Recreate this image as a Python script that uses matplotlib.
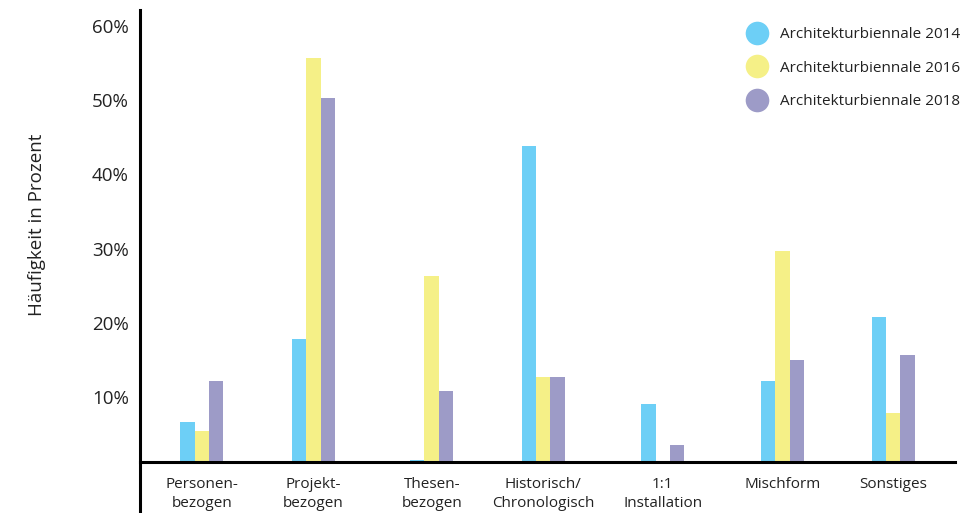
import matplotlib.pyplot as plt
from matplotlib.lines import Line2D
import numpy as np

plt.rcParams['font.family'] = ['Open Sans', 'DejaVu Sans']

# Ausstellungsformen je Biennale (Anteil in Prozent)
categories = ['Personen-\nbezogen', 'Projekt-\nbezogen', 'Thesen-\nbezogen',
              'Historisch/\nChronologisch', '1:1\nInstallation', 'Mischform', 'Sonstiges']
series_names = ['Architekturbiennale 2014', 'Architekturbiennale 2016', 'Architekturbiennale 2018']
values_2014 = [6.7, 17.8, 1.5, 43.8, 9.1, 12.2, 20.8]
values_2016 = [5.5, 55.7, 26.3, 12.7, 0.0, 29.7, 7.9]
values_2018 = [12.2, 50.3, 10.8, 12.7, 3.6, 15.0, 15.7]
yticks = [10, 20, 30, 40, 50, 60]

colors = ['#6dcff6', '#f5f087', '#9d9bc7']
text_color = '#222222'

# Gruppenpositionen (leicht unregelmaessig verteilt)
group_pos = np.array([0.0, 0.965, 1.99, 2.955, 3.99, 5.025, 5.985])

fig = plt.figure(figsize=(9.8, 5.13), dpi=100)
left, right = 140 / 980, 955 / 980
bottom, top = 51 / 513, 503 / 513
ax = fig.add_axes([left, bottom, right - left, top - bottom])

w = 0.125
for i, vals in enumerate([values_2014, values_2016, values_2018]):
    ax.bar(group_pos + (i - 1) * w, vals, width=w, color=colors[i], linewidth=0)

ax.set_xlim(-0.535, 6.52)
ax.set_ylim(1.28, 62.1)

ax.set_yticks(yticks)
ax.set_yticklabels([f'{t}%' for t in yticks], fontsize=13.5, color=text_color)
ax.set_xticks(group_pos)
ax.set_xticklabels(categories, fontsize=11, color=text_color, linespacing=1.35)
ax.tick_params(axis='y', length=0, pad=8)
ax.tick_params(axis='x', length=0, pad=11)

for s in ['top', 'right', 'left']:
    ax.spines[s].set_visible(False)
ax.spines['bottom'].set_linewidth(2.2)
ax.spines['bottom'].set_color('black')

# linke Achse laeuft bis zum unteren Bildrand durch
fig.add_artist(Line2D([left, left], [0, top], transform=fig.transFigure,
                      color='black', linewidth=2.2))

fig.text(37 / 980, 1 - 225 / 513, 'Häufigkeit in Prozent', rotation=90,
         ha='center', va='center', fontsize=13.5, color=text_color)

handles = [Line2D([], [], linestyle='none', marker='o', markersize=17,
                  markerfacecolor=c, markeredgewidth=0) for c in colors]
leg = ax.legend(handles, series_names, loc='upper right', bbox_to_anchor=(1.02, 0.985),
                frameon=False, fontsize=11, handletextpad=0.55, labelspacing=1.2,
                borderaxespad=0.3)
for t in leg.get_texts():
    t.set_color(text_color)

fig.savefig('out.png', dpi=100)
